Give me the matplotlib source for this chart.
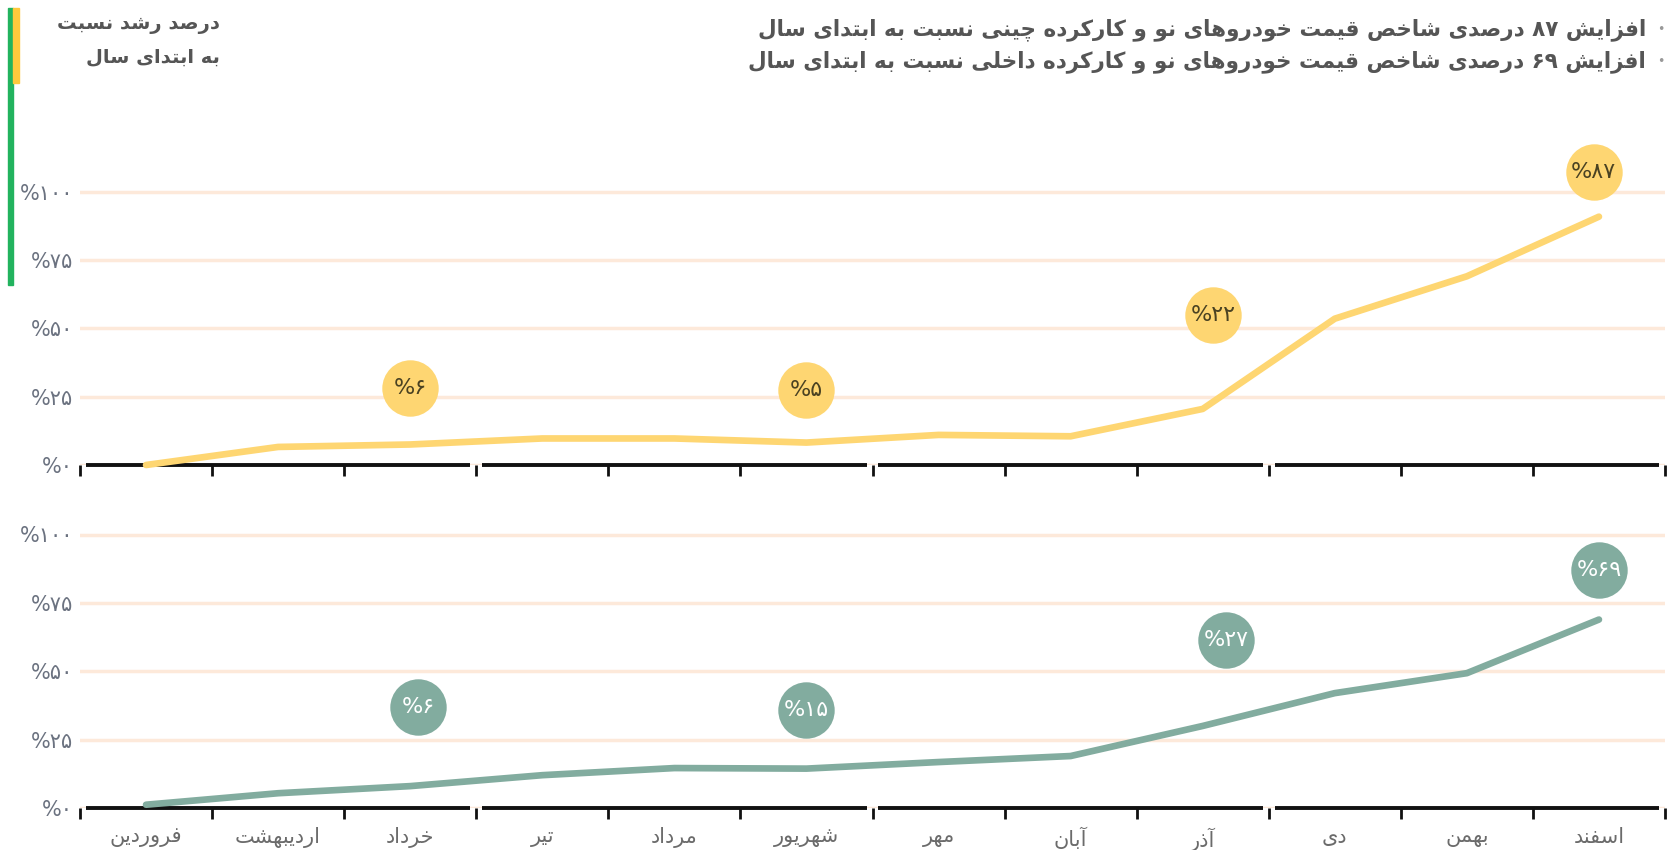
import re
import numpy as np
import matplotlib
matplotlib.use('Agg')
import matplotlib.pyplot as plt
from matplotlib.patches import Rectangle

plt.rcParams['font.family'] = ['DejaVu Sans']

# presentation forms: isolated, final, initial, medial (right-joining letters have only 2)
FORMS = {
    'ا': (0xFE8D, 0xFE8E), 'آ': (0xFE81, 0xFE82),
    'ب': (0xFE8F, 0xFE90, 0xFE91, 0xFE92), 'پ': (0xFB56, 0xFB57, 0xFB58, 0xFB59),
    'ت': (0xFE95, 0xFE96, 0xFE97, 0xFE98), 'ث': (0xFE99, 0xFE9A, 0xFE9B, 0xFE9C),
    'ج': (0xFE9D, 0xFE9E, 0xFE9F, 0xFEA0), 'چ': (0xFB7A, 0xFB7B, 0xFB7C, 0xFB7D),
    'ح': (0xFEA1, 0xFEA2, 0xFEA3, 0xFEA4), 'خ': (0xFEA5, 0xFEA6, 0xFEA7, 0xFEA8),
    'د': (0xFEA9, 0xFEAA), 'ذ': (0xFEAB, 0xFEAC), 'ر': (0xFEAD, 0xFEAE),
    'ز': (0xFEAF, 0xFEB0), 'ژ': (0xFB8A, 0xFB8B),
    'س': (0xFEB1, 0xFEB2, 0xFEB3, 0xFEB4), 'ش': (0xFEB5, 0xFEB6, 0xFEB7, 0xFEB8),
    'ص': (0xFEB9, 0xFEBA, 0xFEBB, 0xFEBC), 'ض': (0xFEBD, 0xFEBE, 0xFEBF, 0xFEC0),
    'ط': (0xFEC1, 0xFEC2, 0xFEC3, 0xFEC4), 'ظ': (0xFEC5, 0xFEC6, 0xFEC7, 0xFEC8),
    'ع': (0xFEC9, 0xFECA, 0xFECB, 0xFECC), 'غ': (0xFECD, 0xFECE, 0xFECF, 0xFED0),
    'ف': (0xFED1, 0xFED2, 0xFED3, 0xFED4), 'ق': (0xFED5, 0xFED6, 0xFED7, 0xFED8),
    'ک': (0xFB8E, 0xFB8F, 0xFB90, 0xFB91), 'گ': (0xFB92, 0xFB93, 0xFB94, 0xFB95),
    'ل': (0xFEDD, 0xFEDE, 0xFEDF, 0xFEE0), 'م': (0xFEE1, 0xFEE2, 0xFEE3, 0xFEE4),
    'ن': (0xFEE5, 0xFEE6, 0xFEE7, 0xFEE8), 'و': (0xFEED, 0xFEEE),
    'ه': (0xFEE9, 0xFEEA, 0xFEEB, 0xFEEC), 'ی': (0xFBFC, 0xFBFD, 0xFBFE, 0xFBFF),
}


def fa(text):
    out = []
    for i, c in enumerate(text):
        f = FORMS.get(c)
        if f is None:
            out.append(c)
            continue
        prev = text[i - 1] if i > 0 else ''
        nxt = text[i + 1] if i + 1 < len(text) else ''
        jp = prev in FORMS and len(FORMS[prev]) == 4
        jn = nxt in FORMS and len(f) == 4
        if jp and jn:
            out.append(chr(f[3]))
        elif jp:
            out.append(chr(f[1]))
        elif jn:
            out.append(chr(f[2]))
        else:
            out.append(chr(f[0]))
    runs = re.findall(r'\d+|\D+', ''.join(out))
    return ''.join(r if r[0].isdigit() else r[::-1] for r in reversed(runs))


def fa_num(n):
    return str(n).translate(str.maketrans('0123456789', '۰۱۲۳۴۵۶۷۸۹'))


# ---- data ----
months = ['فروردین', 'اردیبهشت', 'خرداد', 'تیر', 'مرداد', 'شهریور',
          'مهر', 'آبان', 'آذر', 'دی', 'بهمن', 'اسفند']
chinese = [0, 6.6, 7.5, 9.7, 9.7, 8.2, 11.0, 10.5, 20.5, 53.5, 69.0, 90.8]
domestic = [1.2, 5.4, 8.0, 12.0, 14.6, 14.4, 16.8, 19.0, 30.0, 42.0, 49.3, 68.9]
yticks = [0, 25, 50, 75, 100]

# bubbles: month position, height on chart, label
chinese_bub_x = [2, 5, 8.08, 10.96]
chinese_bub_y = [28.3, 27.5, 55, 107]
chinese_bub_val = [6, 5, 22, 87]
domestic_bub_x = [2.06, 5, 8.18, 11]
domestic_bub_y = [37, 36, 61.5, 87]
domestic_bub_val = [6, 15, 27, 69]

title1 = 'افزایش ۸۷ درصدی شاخص قیمت خودروهای نو و کارکرده چینی نسبت به ابتدای سال'
title2 = 'افزایش ۶۹ درصدی شاخص قیمت خودروهای نو و کارکرده داخلی نسبت به ابتدای سال'
sub1 = 'درصد رشد نسبت'
sub2 = 'به ابتدای سال'

W, H = 1667, 850
fig = plt.figure(figsize=(W / 100, H / 100), dpi=100)


def fx(x):
    return x / W


def fy(y):
    return 1 - y / H


ymax = 120
pxu = 2.735  # pixels per percent
ax_top = fig.add_axes([fx(80), fy(465), fx(1665 - 80), ymax * pxu / H])
ax_bot = fig.add_axes([fx(80), fy(808), fx(1665 - 80), ymax * pxu / H])

x = np.arange(len(months))
bounds = np.arange(-0.5, len(months), 1)
quarters = np.arange(-0.5, len(months) + 0.5, 3)
gap = 0.045

for ax, vals, color, bx, by, bv, tcol in [
        (ax_top, chinese, '#FED672', chinese_bub_x, chinese_bub_y, chinese_bub_val, '#4a4222'),
        (ax_bot, domestic, '#82AC9F', domestic_bub_x, domestic_bub_y, domestic_bub_val, 'white')]:
    ax.set_xlim(-0.5, len(months) - 0.5)
    ax.set_ylim(0, ymax)
    for s in ax.spines.values():
        s.set_visible(False)
    ax.set_yticks(yticks)
    ax.set_yticklabels(['%' + fa_num(v) for v in yticks], color='#6b7280', fontsize=15)
    ax.tick_params(axis='y', length=0, pad=5)
    ax.yaxis.grid(True, color='#FDE9DA', lw=2.5)
    ax.set_axisbelow(True)
    ax.set_xticks(bounds)
    ax.set_xticklabels([])
    ax.tick_params(axis='x', which='major', direction='out', length=8, width=2, color='#111')
    ax.hlines(np.zeros(len(quarters) - 1), quarters[:-1] + gap, quarters[1:] - gap,
              color='#111', lw=2.8, clip_on=False, zorder=3)
    ax.plot(x, vals, color=color, lw=4.8, solid_capstyle='round', clip_on=False, zorder=4)
    ax.scatter(bx, by, s=1650, color=color, zorder=5, clip_on=False, linewidths=0)
    for xi, yi, v in zip(bx, by, bv):
        ax.text(xi, yi, '%' + fa_num(v), ha='center', va='center', color=tcol,
                fontsize=16, zorder=6)

ax_bot.set_xticks(x, minor=True)
ax_bot.set_xticklabels([fa(m) for m in months], minor=True, color='#6b6b6b', fontsize=15)
ax_bot.tick_params(axis='x', which='minor', length=0, pad=14)

# titles
fig.text(fx(1646), fy(30), fa(title1), ha='right', va='center', fontsize=15.5,
         fontweight='bold', color='#555555')
fig.text(fx(1646), fy(62), fa(title2), ha='right', va='center', fontsize=15.5,
         fontweight='bold', color='#555555')
fig.text(fx(1661), fy(30), '•', ha='center', va='center', fontsize=9, color='#999999')
fig.text(fx(1661), fy(62), '•', ha='center', va='center', fontsize=9, color='#999999')
fig.text(fx(220), fy(25), fa(sub1), ha='right', va='center', fontsize=14,
         fontweight='bold', color='#555555')
fig.text(fx(220), fy(57), fa(sub2), ha='right', va='center', fontsize=14,
         fontweight='bold', color='#555555')

# left colour bars
fig.add_artist(Rectangle((fx(8), fy(285)), fx(5), (285 - 8) / H, color='#22B35E',
                         transform=fig.transFigure))
fig.add_artist(Rectangle((fx(13), fy(83)), fx(6), (83 - 8) / H, color='#FFC93C',
                         transform=fig.transFigure))

fig.savefig('out.png', dpi=100)
